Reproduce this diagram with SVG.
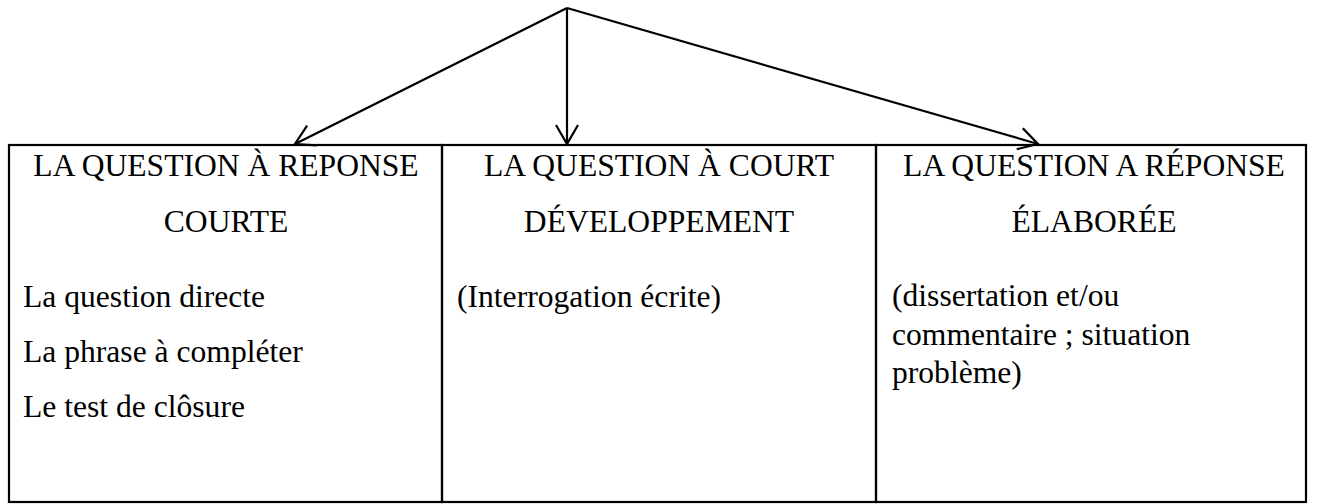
<svg xmlns="http://www.w3.org/2000/svg" width="1317" height="504" viewBox="0 0 1317 504">
<defs>
<marker id="open" viewBox="0 0 24 26" refX="21" refY="13" markerWidth="24" markerHeight="26" markerUnits="userSpaceOnUse" orient="auto">
<path d="M2,2 L21,13 L2,24" fill="none" stroke="#000" stroke-width="2.2"/>
</marker>
<style>
.t{font-family:"Liberation Serif","Times New Roman",serif;font-size:31.6px;fill:#000}
.c{text-anchor:middle}
.b{fill:none;stroke:#000;stroke-width:2.2}
.a{fill:none;stroke:#000;stroke-width:2.2;marker-end:url(#open)}
</style>
</defs>
<g id="connectors">
<line class="a" x1="567" y1="8" x2="295" y2="144"/>
<line class="a" x1="567" y1="8" x2="567" y2="144"/>
<line class="a" x1="567" y1="8" x2="1038" y2="144"/>
</g>
<g id="node-courte">
<rect class="b" x="9" y="145" width="433" height="357"/>
<text class="t c" x="226" y="176">LA QUESTION À REPONSE</text>
<text class="t c" x="226" y="232">COURTE</text>
<text class="t" x="23" y="307">La question directe</text>
<text class="t" x="23" y="362">La phrase à compléter</text>
<text class="t" x="23" y="417">Le test de clôsure</text>
</g>
<g id="node-court-dev">
<rect class="b" x="442" y="145" width="434" height="357"/>
<text class="t c" x="659" y="176">LA QUESTION À COURT</text>
<text class="t c" x="659" y="232">DÉVELOPPEMENT</text>
<text class="t" x="457" y="307">(Interrogation écrite)</text>
</g>
<g id="node-elaboree">
<rect class="b" x="876" y="145" width="430" height="357"/>
<text class="t c" x="1094" y="176">LA QUESTION A RÉPONSE</text>
<text class="t c" x="1094" y="232">ÉLABORÉE</text>
<text class="t" x="892" y="306">(dissertation et/ou</text>
<text class="t" x="892" y="345">commentaire ; situation</text>
<text class="t" x="892" y="383">problème)</text>
</g>
</svg>
